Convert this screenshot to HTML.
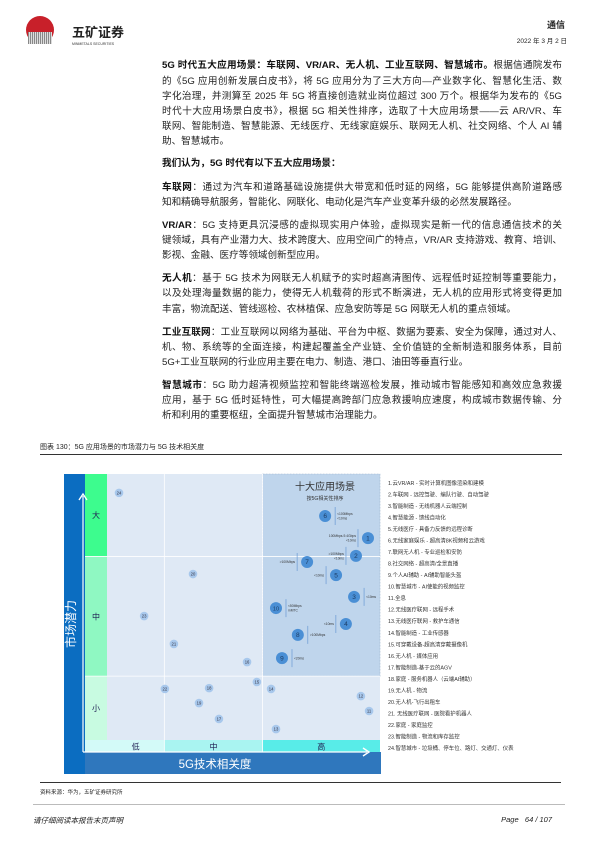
<!DOCTYPE html>
<html><head><meta charset="utf-8">
<style>
html,body{margin:0;padding:0;background:#fff;}
body{width:596px;height:843px;position:relative;overflow:hidden;font-family:"Liberation Sans","Noto Sans CJK SC",sans-serif;color:#222;}
.ln{position:absolute;left:162px;width:400px;font-size:9.6px;line-height:14px;height:14px;white-space:nowrap;text-align:justify;text-align-last:justify;}
.ln.last{text-align-last:left;}
b{font-weight:bold;color:#111;}
.abs{position:absolute;}
</style></head><body>
<div class="abs" style="left:26px;top:16px;width:28px;height:28px;border-radius:50%;background:#c8202a;"></div>
<div class="abs" style="left:28px;top:32px;width:24px;height:12px;background:repeating-linear-gradient(90deg,#888 0 1px,#ddd 1px 2px);"></div>
<div class="abs" style="left:72px;top:22px;font-size:13px;font-weight:bold;color:#222;">五矿证券</div>
<div class="abs" style="left:72px;top:42px;font-size:3.5px;color:#333;">MINMETALS SECURITIES</div>
<div class="abs" style="right:31px;top:18px;font-size:9px;font-weight:bold;">通信</div>
<div class="abs" style="right:29px;top:35px;font-size:6.5px;">2022 年 3 月 2 日</div>

<div>
<div class="ln" style="top:59px"><b>5G 时代五大应用场景：车联网、VR/AR、无人机、工业互联网、智慧城市。</b>根据信通院发布</div>
<div class="ln" style="top:75px">的《5G 应用创新发展白皮书》，将 5G 应用分为了三大方向—产业数字化、智慧化生活、数</div>
<div class="ln" style="top:90px">字化治理，并测算至 2025 年 5G 将直接创造就业岗位超过 300 万个。根据华为发布的《5G</div>
<div class="ln" style="top:105px">时代十大应用场景白皮书》，根据 5G 相关性排序，选取了十大应用场景——云 AR/VR、车</div>
<div class="ln" style="top:120px">联网、智能制造、智慧能源、无线医疗、无线家庭娱乐、联网无人机、社交网络、个人 AI 辅</div>
<div class="ln last" style="top:135px">助、智慧城市。</div>
<div class="ln last" style="top:157px"><b>我们认为，5G 时代有以下五大应用场景：</b></div>
<div class="ln" style="top:181px"><b>车联网</b>：通过为汽车和道路基础设施提供大带宽和低时延的网络，5G 能够提供高阶道路感</div>
<div class="ln last" style="top:196px">知和精确导航服务，智能化、网联化、电动化是汽车产业变革升级的必然发展路径。</div>
<div class="ln" style="top:219px"><b>VR/AR</b>：5G 支持更具沉浸感的虚拟现实用户体验，虚拟现实是新一代的信息通信技术的关</div>
<div class="ln" style="top:234px">键领域，具有产业潜力大、技术跨度大、应用空间广的特点，VR/AR 支持游戏、教育、培训、</div>
<div class="ln last" style="top:249px">影视、金融、医疗等领域创新型应用。</div>
<div class="ln" style="top:272px"><b>无人机</b>：基于 5G 技术为网联无人机赋予的实时超高清图传、远程低时延控制等重要能力，</div>
<div class="ln" style="top:287px">以及处理海量数据的能力，使得无人机载荷的形式不断演进，无人机的应用形式将变得更加</div>
<div class="ln last" style="top:303px">丰富，物流配送、管线巡检、农林植保、应急安防等是 5G 网联无人机的重点领域。</div>
<div class="ln" style="top:326px"><b>工业互联网</b>：工业互联网以网络为基础、平台为中枢、数据为要素、安全为保障，通过对人、</div>
<div class="ln" style="top:341px">机、物、系统等的全面连接，构建起覆盖全产业链、全价值链的全新制造和服务体系，目前</div>
<div class="ln last" style="top:356px">5G+工业互联网的行业应用主要在电力、制造、港口、油田等垂直行业。</div>
<div class="ln" style="top:379px"><b>智慧城市</b>：5G 助力超清视频监控和智能终端巡检发展，推动城市智能感知和高效应急救援</div>
<div class="ln" style="top:394px">应用，基于 5G 低时延特性，可大幅提高跨部门应急救援响应速度，构成城市数据传输、分</div>
<div class="ln last" style="top:409px">析和利用的重要枢纽，全面提升智慧城市治理能力。</div>
</div>

<div class="abs" style="left:40px;top:442px;font-size:7px;">图表 130：5G 应用场景的市场潜力与 5G 技术相关度</div>
<div class="abs" style="left:40px;top:454px;width:522px;height:1px;background:#333;"></div>

<svg class="abs" style="left:0;top:0" width="596" height="843" id="chart"></svg>

<div class="abs" style="left:40px;top:782px;width:521px;height:1px;background:#333;"></div>
<div class="abs" style="left:40px;top:788px;font-size:5.5px;">资料来源：华为，五矿证券研究所</div>
<div class="abs" style="left:33px;top:804px;width:532px;height:1px;background:#bbb;"></div>
<div class="abs" style="left:33px;top:815px;font-size:7.5px;font-style:italic;">请仔细阅读本报告末页声明</div>
<div class="abs" style="right:44px;top:815px;font-size:7.5px;font-style:italic;">Page &nbsp; 64 / 107</div>

<script>
const ids = ["24","6","1","2","7","5","20","3","10","23","4","8","21","16","9","15","14","22","18","12","19","11","17","13"];
const techRelevance = [4.4,79.9,95.6,91.2,73.3,83.9,31.5,90.5,61.9,13.6,87.5,69.9,24.5,51.3,64.1,54.9,60.1,21.2,37.4,93.0,33.7,96.0,41.0,61.9];
const marketPotential = [92.9,84.2,75.9,69.2,66.9,62.0,62.4,53.8,49.6,46.6,43.6,39.5,36.1,29.3,30.8,21.8,19.2,19.2,19.5,16.5,13.9,10.9,7.9,4.1];
const topTen = ["1","2","3","4","5","6","7","8","9","10"];
const annoIds = ["6","1","2","7","5","3","10","4","8","9"];
const annoText = [["<100Mbps","<10ms"],["100Mbps-9.4Gbps","<10ms"],[">100Mbps","<10ms"],[">100Mbps"],["<10ms"],["<10ms"],["<50Mbps","mMTC"],["<10ms"],[">100Mbps"],["<20ms"]];
const annoSide = ["r","l","l","l","l","r","r","l","r","r"];
const legendItems = ["1.云VR/AR - 实时计算机图像渲染和建模","2.车联网 - 远控驾驶、编队行驶、自动驾驶","3.智能制造 - 无线机器人云端控制","4.智慧能源 - 馈线自动化","5.无线医疗 - 具备力反馈的远程诊断","6.无线家庭娱乐 - 超高清8K视频和云游戏","7.联网无人机 - 专业巡检和安防","8.社交网络 - 超高清/全景直播","9.个人AI辅助 - AI辅助智能头盔","10.智慧城市 - AI使能的视频监控","11.全息","12.无线医疗联网 - 远程手术","13.无线医疗联网 - 救护车通信","14.智能制造 - 工业传感器","15.可穿戴设备-超高清穿戴摄像机","16.无人机 - 媒体应用","17.智能制造-基于云的AGV","18.家庭 - 服务机器人（云端AI辅助）","19.无人机 - 物流","20.无人机-飞行出租车","21. 无线医疗联网 - 医院看护机器人","22.家庭 - 家庭监控","23.智能制造 - 物流和库存监控","24.智慧城市 - 垃圾桶、停车位、路灯、交通灯、仪表"];

const NS="http://www.w3.org/2000/svg";
const svg=document.getElementById('chart');
const X0=107,X1=380,Y0=740,Y1=474;
function xs(v){return X0+v*(X1-X0)/100;}
function ys(v){return Y0-v*(Y0-Y1)/100;}
function mk(tag,attrs,parent){const e=document.createElementNS(NS,tag);for(const k in attrs)e.setAttribute(k,attrs[k]);(parent||svg).appendChild(e);return e;}
function txt(s,x,y,size,fill,extra,parent){const t=mk('text',Object.assign({x:x,y:y,'font-size':size,fill:fill,'font-family':'Liberation Sans, Noto Sans CJK SC, sans-serif'},extra||{}),parent);t.textContent=s;return t;}

// background panels
let r;
r=mk('rect',{x:64,y:474,width:21,height:300,fill:'#0b6dc1'});


r=mk('rect',{x:85,y:752,width:296,height:22,fill:'#2f77bd'});


r=mk('rect',{x:107,y:474,width:273,height:266,fill:'#dfe9f5'});


r=mk('rect',{x:xs(57),y:474,width:X1-xs(57),height:ys(24)-474,fill:'#bfd5ec',stroke:'#9fb6cf','stroke-dasharray':'2,1','stroke-width':0.6});


// y category strips
const yBands=[["大",69,100,'#3dfc8e'],["中",24,69,'#8ff8c2'],["小",0,24,'#c8fbe1']];
yBands.forEach(b=>{const g=mk('rect',{x:85,y:ys(b[2]),width:22,height:ys(b[1])-ys(b[2]),fill:b[3]});


txt(b[0],96,(ys(b[1])+ys(b[2]))/2+3,8,'#225',{'text-anchor':'middle'});});
mk('rect',{x:85,y:740,width:22,height:12,fill:'#d3faf8'});
const xBands=[["低",0,21,'#d3faf8'],["中",21,57,'#a9f4f1'],["高",57,100,'#58ece8']];
xBands.forEach(b=>{const g=mk('rect',{x:xs(b[1]),y:740,width:xs(b[2])-xs(b[1]),height:12,fill:b[3]});


txt(b[0],(xs(b[1])+xs(b[2]))/2,749.5,8,'#225',{'text-anchor':'middle'});});
// grid lines
[21,57].forEach(v=>mk('line',{x1:xs(v),x2:xs(v),y1:474,y2:752,stroke:'#fff','stroke-width':0.8}));
[24,69].forEach(v=>mk('line',{x1:85,x2:X1,y1:ys(v),y2:ys(v),stroke:'#fff','stroke-width':0.8}));
// arrows
mk('line',{x1:83,y1:752,x2:83,y2:496,stroke:'#fff','stroke-width':1.2});
mk('polyline',{points:'79,500 83,494 87,500',fill:'none',stroke:'#fff','stroke-width':1.4});
mk('line',{x1:83,y1:752,x2:367,y2:752,stroke:'#fff','stroke-width':1.2});
mk('polyline',{points:'363,748 369,752 363,756',fill:'none',stroke:'#fff','stroke-width':1.4});
let t=txt('市场潜力',75,624,12,'#fff',{'text-anchor':'middle','transform':'rotate(-90 75 624)'});


t=txt('5G技术相关度',215,768,11.5,'#fff',{'text-anchor':'middle'});


t=txt('十大应用场景',325,490,10,'#333',{'text-anchor':'middle'});


txt('按5G相关性排序',325,500,5,'#333',{'text-anchor':'middle'});

// points
ids.forEach((id,i)=>{
  const big=topTen.indexOf(id)>=0;
  const cx=xs(techRelevance[i]),cy=ys(marketPotential[i]);
  const c=mk('circle',{cx:cx,cy:cy,r:big?6:4.3,fill:big?'#4a8fd5':'#a8c8ec'});
  
  
  txt(id,cx,cy+(big?2.2:1.5),big?(id.length>1?5.5:6.5):4.2,big?'#1c3c64':'#334',{'text-anchor':'middle'});
});
// annotations
annoIds.forEach((id,k)=>{
  const i=ids.indexOf(id);
  const cx=xs(techRelevance[i]),cy=ys(marketPotential[i]);
  const s=annoSide[k]==='r'?1:-1;
  const lx=cx+s*10;
  mk('line',{x1:lx,x2:lx,y1:cy-9,y2:cy+9,stroke:'#5b8fcf','stroke-width':0.6});
  const lines=annoText[k];
  lines.forEach((L,j)=>{
    const a=txt(L,lx+s*2,cy-(lines.length-1)*2.2+j*4.4+1.2,3.3,'#333',{'text-anchor':s>0?'start':'end'});
    
    
  });
});
// legend
legendItems.forEach((s,i)=>{
  const e=txt(s,388,485+i*11.52,5.4,'#333',{});
  
  
});
</script>
</body></html>
